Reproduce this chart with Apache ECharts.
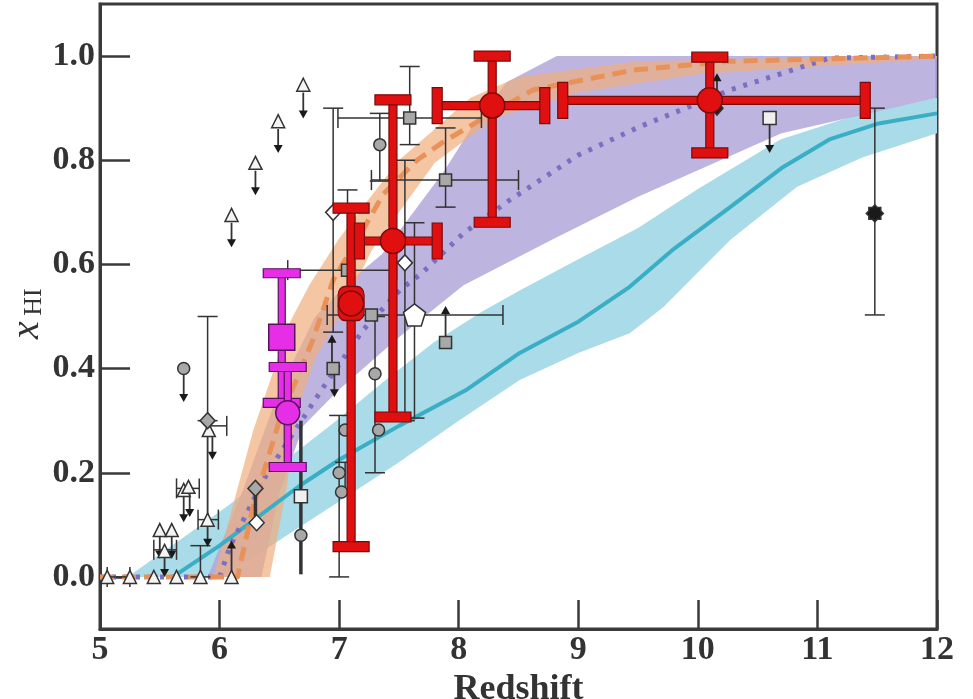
<!DOCTYPE html>
<html>
<head>
<meta charset="utf-8">
<script src="https://cdn.jsdelivr.net/npm/echarts@6/dist/echarts.min.js"></script>
<style>
  html, body { margin: 0; padding: 0; background: #fff; }
  #chart { width: 973px; height: 699px; }
</style>
</head>
<body>
<div id="chart"></div>
<script>
const serif = '"Liberation Serif", "DejaVu Serif", serif';
const yTicks = [0, 0.2, 0.4, 0.6, 0.8, 1.0];

// model bands, points are [redshift, xHI]
const cyanUpper = [[5.23, 0], [5.6, 0.06], [6.09, 0.14], [6.5, 0.215], [6.95, 0.295], [7.4, 0.38], [7.79, 0.45], [8.2, 0.51], [8.51, 0.55], [9.0, 0.61], [9.5, 0.67], [10.0, 0.745], [10.69, 0.84], [11.3, 0.885], [12, 0.92]];
const cyanLower = [[6.0, 0], [6.3, 0.04], [6.67, 0.096], [7.0, 0.145], [7.5, 0.22], [8.0, 0.30], [8.51, 0.378], [9.0, 0.43], [9.43, 0.468], [9.71, 0.518], [10.27, 0.647], [10.83, 0.749], [11.38, 0.806], [12, 0.852]];
const cyanLine = [[5.61, 0], [6.0, 0.06], [6.67, 0.175], [7.0, 0.225], [7.5, 0.29], [8.07, 0.36], [8.51, 0.43], [9.0, 0.49], [9.43, 0.557], [9.8, 0.63], [10.27, 0.71], [10.7, 0.785], [11.1, 0.84], [11.5, 0.87], [12, 0.89]];

const purpleUpper = [[5.9, 0], [6.2, 0.17], [6.5, 0.36], [6.8, 0.5], [7.1, 0.57], [7.36, 0.62], [7.88, 0.78], [8.1, 0.86], [8.4, 0.95], [8.82, 1.0], [12, 1.0]];
const purpleLower = [[6.35, 0], [6.5, 0.16], [6.7, 0.29], [7.0, 0.36], [7.5, 0.46], [8.04, 0.56], [8.8, 0.65], [9.5, 0.73], [10.7, 0.852], [12, 0.92]];
const purpleLine = [[5.0, 0], [6.0, 0], [6.09, 0.06], [6.4, 0.2], [6.87, 0.365], [7.2, 0.474], [7.51, 0.551], [7.7, 0.585], [8.04, 0.66], [8.43, 0.724], [9.0, 0.81], [9.51, 0.864], [10.27, 0.935], [11.1, 0.996], [12, 1.0]];

const orangeLeft = [[5.95, 0], [6.28, 0.28], [6.59, 0.49], [6.75, 0.56], [7.0, 0.65], [7.23, 0.72], [7.5, 0.8], [7.8, 0.86], [8.1, 0.92], [8.5, 0.96], [9.5, 0.99], [12, 1.0]];
const orangeRight = [[6.42, 0], [6.56, 0.17], [6.65, 0.32], [6.8, 0.42], [7.0, 0.5], [7.28, 0.63], [7.8, 0.795], [8.3, 0.88], [9.0, 0.93], [10, 0.965], [12, 0.995]];
const orangeLine = [[5.0, 0], [6.15, 0], [6.28, 0.134], [6.5, 0.3], [6.78, 0.455], [6.95, 0.57], [7.15, 0.647], [7.37, 0.735], [7.65, 0.8], [7.87, 0.835], [8.2, 0.88], [8.62, 0.935], [9.46, 0.973], [10.27, 0.99], [12, 1.0]];

// literature constraints
// vertical error bars [z, lo, hi]
const blackErrY = [[5.9, 0.30, 0.50], [5.84, 0.0, 0.06], [6.95, 0.47, 0.90], [7.34, 0.76, 0.89], [7.07, 0.52, 0.743], [7.59, 0.83, 0.98], [7.89, 0.71, 0.862], [7.55, 0.30, 0.80], [7.63, 0.305, 0.68], [7.3, 0.20, 0.50], [7.0, 0.0, 0.31], [7.05, 0.163, 0.22], [11.48, 0.503, 0.90]];
// horizontal error bars [xHI, zLo, zHi]
const blackErrX = [[0.0, 5.06, 5.25], [0.052, 5.45, 5.64], [0.17, 5.64, 5.83], [0.11, 5.82, 5.99], [0.29, 5.9, 6.06], [0.881, 6.99, 8.19], [0.762, 7.27, 8.5], [0.589, 6.57, 7.48], [0.503, 6.9, 8.37]];
const thickErrY = [[6.3, 0.104, 0.17], [6.68, 0.005, 0.30]];
// limits [z, from, to]
const limitArrows = [[5.7, 0.40, 0.336], [5.5, 0.09, 0.035], [5.6, 0.09, 0.035], [5.54, 0.05, 0.0], [5.7, 0.167, 0.105], [5.75, 0.17, 0.115], [5.9, 0.3, 0.058], [5.94, 0.28, 0.225], [6.1, 0.0, 0.07], [6.1, 0.68, 0.633], [6.3, 0.78, 0.733], [6.49, 0.86, 0.814], [6.7, 0.93, 0.88], [6.94, 0.40, 0.465], [6.96, 0.40, 0.345], [7.89, 0.45, 0.52], [10.16, 0.90, 0.967], [10.6, 0.881, 0.814]];

const triangles = [[5.06, 0], [5.25, 0], [5.45, 0], [5.64, 0], [5.84, 0], [6.1, 0], [5.5, 0.09], [5.6, 0.09], [5.54, 0.05], [5.7, 0.167], [5.74, 0.173], [5.9, 0.11], [5.91, 0.282], [6.1, 0.695], [6.3, 0.795], [6.49, 0.875], [6.7, 0.945]];
const greyCircles = [[5.7, 0.40], [7.34, 0.83], [7.3, 0.39], [7.33, 0.282], [7.05, 0.282], [7.0, 0.20], [7.02, 0.163], [6.68, 0.08]];
const greySquares = [[7.59, 0.881], [7.89, 0.762], [7.07, 0.589], [7.27, 0.503], [7.89, 0.45], [6.95, 0.40]];
const whiteSquares = [[6.68, 0.155], [10.6, 0.881]];
const greyDiamonds = [[5.9, 0.30], [6.3, 0.17]];
const whiteDiamonds = [[6.31, 0.104], [6.95, 0.70], [7.55, 0.603]];
const pentagons = [[7.63, 0.503]];
const blackDiamonds = [[10.16, 0.90]];
const blackStars = [[11.48, 0.698]];

// this work
const magZ = [6.52, 6.57];
const magY = [0.46, 0.315];
const magLo = [0.334, 0.211];
const magHi = [0.583, 0.403];
const magSymbol = ['rect', 'circle'];

const redZ = [7.1, 7.45, 8.28, 10.1];
const redY = [0.525, 0.645, 0.905, 0.915];
const redYLo = [0.058, 0.307, 0.681, 0.814];
const redYHi = [0.708, 0.916, 1.0, 0.998];
const redXLo = [7.1, 7.17, 7.82, 8.87];
const redXHi = [7.1, 7.82, 8.72, 11.4];

const ink = '#333';

function band(upper, lower, fill) {
  return {
    type: 'custom', data: [[5, 0]], silent: true, z: 1,
    renderItem: (params, api) => {
      const pts = upper.concat(lower.slice().reverse()).map(p => api.coord(p));
      return { type: 'polygon', shape: { points: pts }, style: { fill: fill } };
    }
  };
}

function curve(data, color, type, width) {
  return {
    type: 'line', data, showSymbol: false, silent: true, z: 2,
    smooth: false,
    lineStyle: { color, width, type, cap: 'butt', join: 'round' }
  };
}

function errY(data, width, capW) {
  return {
    type: 'custom', data, silent: true, z: 3,
    encode: { x: 0, y: [1, 2] },
    renderItem: (params, api) => {
      const z = api.value(0);
      const lo = api.coord([z, api.value(1)]);
      const hi = api.coord([z, api.value(2)]);
      const st = { stroke: ink, lineWidth: width };
      const kids = [{ type: 'line', shape: { x1: lo[0], y1: lo[1], x2: hi[0], y2: hi[1] }, style: st }];
      if (capW > 0) {
        kids.push({ type: 'line', shape: { x1: lo[0] - capW / 2, y1: lo[1], x2: lo[0] + capW / 2, y2: lo[1] }, style: st });
        kids.push({ type: 'line', shape: { x1: hi[0] - capW / 2, y1: hi[1], x2: hi[0] + capW / 2, y2: hi[1] }, style: st });
      }
      return { type: 'group', children: kids };
    }
  };
}

function errX(data, width, capH) {
  return {
    type: 'custom', data, silent: true, z: 3,
    encode: { y: 0, x: [1, 2] },
    renderItem: (params, api) => {
      const y = api.value(0);
      const lo = api.coord([api.value(1), y]);
      const hi = api.coord([api.value(2), y]);
      const st = { stroke: ink, lineWidth: width };
      return {
        type: 'group', children: [
          { type: 'line', shape: { x1: lo[0], y1: lo[1], x2: hi[0], y2: hi[1] }, style: st },
          { type: 'line', shape: { x1: lo[0], y1: lo[1] - capH / 2, x2: lo[0], y2: lo[1] + capH / 2 }, style: st },
          { type: 'line', shape: { x1: hi[0], y1: hi[1] - capH / 2, x2: hi[0], y2: hi[1] + capH / 2 }, style: st }
        ]
      };
    }
  };
}

function arrows(data) {
  return {
    type: 'custom', data, silent: true, z: 3,
    encode: { x: 0, y: [1, 2] },
    renderItem: (params, api) => {
      const z = api.value(0);
      const a = api.coord([z, api.value(1)]);
      const b = api.coord([z, api.value(2)]);
      const d = b[1] > a[1] ? 1 : -1;
      return {
        type: 'group', children: [
          { type: 'line', shape: { x1: a[0], y1: a[1], x2: b[0], y2: b[1] - d * 6 }, style: { stroke: ink, lineWidth: 1.8 } },
          { type: 'polygon', shape: { points: [[b[0], b[1]], [b[0] - 4.5, b[1] - d * 8], [b[0] + 4.5, b[1] - d * 8]] }, style: { fill: '#1a1a1a' } }
        ]
      };
    }
  };
}

function markers(data, symbol, size, fill, z) {
  return {
    type: 'scatter', data, symbol, symbolSize: size, silent: true, z: z || 4,
    itemStyle: { color: fill, borderColor: ink, borderWidth: 1.5, opacity: 1 }
  };
}

function bigErr(data, fill, stroke, barW, capL, capT, z) {
  return {
    type: 'custom', data, silent: true, z,
    encode: { x: [0, 4, 5], y: [1, 2, 3] },
    renderItem: (params, api) => {
      const zz = api.value(0), y = api.value(1);
      const c = api.coord([zz, y]);
      const lo = api.coord([zz, api.value(2)]);
      const hi = api.coord([zz, api.value(3)]);
      const xl = api.coord([api.value(4), y]);
      const xh = api.coord([api.value(5), y]);
      const shapes = [
        { x: c[0] - barW / 2, y: hi[1], width: barW, height: lo[1] - hi[1] },
        { x: c[0] - capL / 2, y: hi[1] - capT / 2, width: capL, height: capT },
        { x: c[0] - capL / 2, y: lo[1] - capT / 2, width: capL, height: capT }
      ];
      if (xh[0] - xl[0] > 1) {
        shapes.push({ x: xl[0], y: c[1] - barW / 2, width: xh[0] - xl[0], height: barW });
        shapes.push({ x: xl[0] - capT / 2, y: c[1] - capL / 2, width: capT, height: capL });
        shapes.push({ x: xh[0] - capT / 2, y: c[1] - capL / 2, width: capT, height: capL });
      }
      return {
        type: 'group',
        children: shapes.map(s => ({ type: 'rect', shape: s, style: { fill, stroke, lineWidth: 1.2 } }))
      };
    }
  };
}

const redData = redZ.map((z, i) => [z, redY[i], redYLo[i], redYHi[i], redXLo[i], redXHi[i]]);
const magData = magZ.map((z, i) => [z, magY[i], magLo[i], magHi[i], z, z]);

const pentagonPath = 'path://M0,-1L0.951,-0.309L0.588,0.809L-0.588,0.809L-0.951,-0.309Z';
const starPath = 'path://M0,-1L0.3,-0.7L0.7,-0.7L0.7,-0.3L1,0L0.7,0.3L0.7,0.7L0.3,0.7L0,1L-0.3,0.7L-0.7,0.7L-0.7,0.3L-1,0L-0.7,-0.3L-0.7,-0.7L-0.3,-0.7Z';

const chart = echarts.init(document.getElementById('chart'));

const option = {
  animation: false,
  backgroundColor: '#fff',
  grid: {
    left: 100, right: 36, top: 4, bottom: 70,
    show: true, borderColor: '#3a3a3a', borderWidth: 3,
    outerBoundsMode: 'none'
  },
  xAxis: {
    type: 'value', min: 5, max: 12, interval: 1,
    axisLine: { onZero: false, lineStyle: { color: '#3a3a3a', width: 3 } },
    axisTick: { inside: true, length: 29, lineStyle: { color: '#3a3a3a', width: 2.5 } },
    axisLabel: { fontFamily: serif, fontWeight: 'bold', fontSize: 34, color: ink, margin: 4, showMinLabel: true, showMaxLabel: true },
    splitLine: { show: false },
    name: 'Redshift', nameLocation: 'middle', nameGap: 24,
    nameTextStyle: { fontFamily: serif, fontWeight: 'bold', fontSize: 36, color: ink }
  },
  yAxis: {
    type: 'value', min: -0.1, max: 1.1,
    axisLine: { show: true, onZero: false, lineStyle: { color: '#3a3a3a', width: 3 } },
    axisTick: { show: true, inside: true, length: 30, customValues: yTicks, lineStyle: { color: '#3a3a3a', width: 2.5 } },
    axisLabel: { customValues: yTicks, formatter: v => v.toFixed(1), fontFamily: serif, fontWeight: 'bold', fontSize: 34, color: ink, margin: 5 },
    splitLine: { show: false }
  },
  graphic: [
    { type: 'text', x: 27, y: 330, rotation: Math.PI / 2,
      style: { text: 'x', fontFamily: serif, fontStyle: 'italic', fontSize: 40, fill: ink, align: 'center', verticalAlign: 'middle' } },
    { type: 'text', x: 34, y: 302, rotation: Math.PI / 2,
      style: { text: 'HI', fontFamily: serif, fontSize: 26, fill: ink, align: 'center', verticalAlign: 'middle' } }
  ],
  series: [
    band(cyanUpper, cyanLower, '#a9dbe8'),
    band(purpleUpper, purpleLower, 'rgba(178, 167, 218, 0.85)'),
    band(orangeLeft, orangeRight, 'rgba(241, 174, 126, 0.7)'),
    curve(cyanLine, '#3aaec4', 'solid', 4),
    curve(purpleLine, '#7b6fc0', [4, 8], 5),
    curve(orangeLine, '#e8925a', [14, 8], 5),
    errY(blackErrY, 1.5, 20),
    errX(blackErrX, 1.5, 20),
    errY(thickErrY, 3.5, 0),
    arrows(limitArrows),
    markers(triangles, 'triangle', 13, '#f4f4f4'),
    markers(greyCircles, 'circle', 12, '#a8a8a8'),
    markers(greySquares, 'rect', 12, '#a8a8a8'),
    markers(whiteSquares, 'rect', 13, '#f0f0f0'),
    markers(greyDiamonds, 'diamond', [15, 16], '#a8a8a8'),
    markers(whiteDiamonds, 'diamond', [15, 16], '#ffffff'),
    markers(pentagons, pentagonPath, 22, '#ffffff'),
    markers(blackDiamonds, 'diamond', [12, 14], '#1a1a1a'),
    markers(blackStars, starPath, 17, '#1a1a1a'),
    bigErr(magData, '#e62ee6', '#5a1060', 7, 37, 9, 5),
    {
      type: 'scatter', silent: true, z: 6,
      data: magZ.map((z, i) => [z, magY[i]]),
      symbol: (val, params) => magSymbol[params.dataIndex],
      symbolSize: (val, params) => params.dataIndex === 0 ? 26 : 24,
      itemStyle: { color: '#e62ee6', borderColor: '#5a1060', borderWidth: 1.5, opacity: 1 }
    },
    bigErr(redData, '#e01010', '#7a0a0a', 8, 36, 10, 7),
    {
      type: 'scatter', silent: true, z: 8,
      data: [[redZ[0], redY[0]]],
      symbol: 'roundRect', symbolSize: [26, 34],
      itemStyle: { color: '#e01010', borderColor: '#7a0a0a', borderWidth: 1.2, opacity: 1 }
    },
    {
      type: 'scatter', silent: true, z: 9,
      data: redZ.map((z, i) => [z, redY[i]]),
      symbol: 'circle', symbolSize: 25,
      itemStyle: { color: '#e01010', borderColor: '#7a0a0a', borderWidth: 1.5, opacity: 1 }
    }
  ]
};

chart.setOption(option);
</script>
</body>
</html>
